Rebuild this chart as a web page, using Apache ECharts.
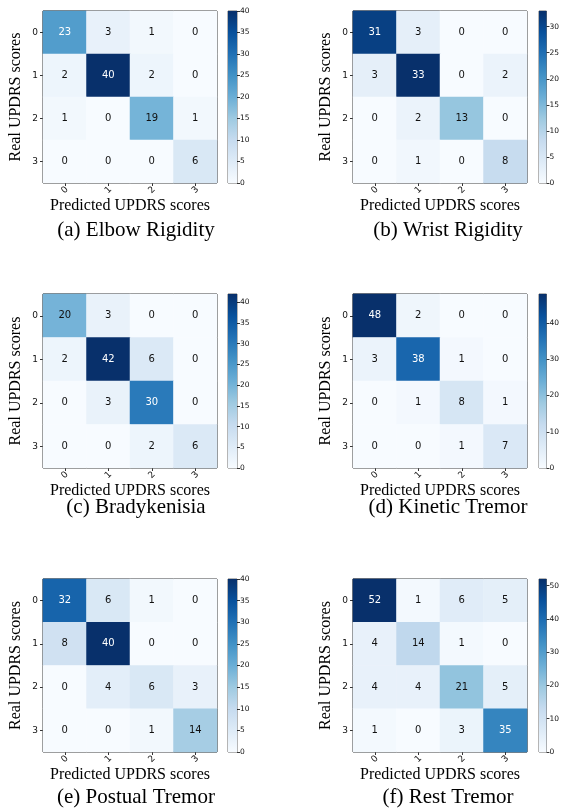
<!DOCTYPE html>
<html>
<head>
<meta charset="utf-8">
<script src="https://cdn.jsdelivr.net/npm/echarts@6/dist/echarts.min.js"></script>
<style>
  html, body { margin: 0; padding: 0; background: #ffffff; }
  #chart { width: 562px; height: 810px; }
</style>
</head>
<body>
<div id="chart"></div>
<script>
// UPDRS score classes (rows = real, columns = predicted)
const scoreLabels = ['0', '1', '2', '3'];

const elbowRigidity  = [[23, 3, 1, 0], [2, 40, 2, 0], [1, 0, 19, 1], [0, 0, 0, 6]];
const wristRigidity  = [[31, 3, 0, 0], [3, 33, 0, 2], [0, 2, 13, 0], [0, 1, 0, 8]];
const bradykinesia   = [[20, 3, 0, 0], [2, 42, 6, 0], [0, 3, 30, 0], [0, 0, 2, 6]];
const kineticTremor  = [[48, 2, 0, 0], [3, 38, 1, 0], [0, 1, 8, 1], [0, 0, 1, 7]];
const posturalTremor = [[32, 6, 1, 0], [8, 40, 0, 0], [0, 4, 6, 3], [0, 0, 1, 14]];
const restTremor     = [[52, 1, 6, 5], [4, 14, 1, 0], [4, 4, 21, 5], [1, 0, 3, 35]];

const captions = [
  '(a) Elbow Rigidity', '(b) Wrist Rigidity', '(c) Bradykenisia',
  '(d) Kinetic Tremor', '(e) Postual Tremor', '(f) Rest Tremor'
];

// colorbar tick labels for each panel
const ticksElbow    = [0, 5, 10, 15, 20, 25, 30, 35, 40];
const ticksWrist    = [0, 5, 10, 15, 20, 25, 30];
const ticksBrady    = [0, 5, 10, 15, 20, 25, 30, 35, 40];
const ticksKinetic  = [0, 10, 20, 30, 40];
const ticksPostural = [0, 5, 10, 15, 20, 25, 30, 35, 40];
const ticksRest     = [0, 10, 20, 30, 40, 50];

const xTitle = 'Predicted UPDRS scores';
const yTitle = 'Real UPDRS scores';

// matplotlib "Blues" colormap
const blues = ['#f7fbff', '#deebf7', '#c6dbef', '#9ecae1', '#6baed6',
               '#4292c6', '#2171b5', '#08519c', '#08306b'];

const panels = [
  { matrix: elbowRigidity,  ticks: ticksElbow },
  { matrix: wristRigidity,  ticks: ticksWrist },
  { matrix: bradykinesia,   ticks: ticksBrady },
  { matrix: kineticTremor,  ticks: ticksKinetic },
  { matrix: posturalTremor, ticks: ticksPostural },
  { matrix: restTremor,     ticks: ticksRest }
];

// page layout
const colLeft = [43, 353];
const colCbLeft = [228, 539];
const rowTop = [11, 294, 579];
const rowH = [172, 174, 173];
const plotW = 174;
const cbW = 9;
const captionY = [230, 507, 797];
const captionX = [136, 448];

const serif = 'Liberation Serif';
const sans = 'DejaVu Sans';

const grid = [], xAxis = [], yAxis = [], series = [], visualMap = [], graphic = [];
const n = panels.length;

panels.forEach((p, i) => {
  const col = i % 2, row = Math.floor(i / 2);
  const maxVal = Math.max(...p.matrix.flat());
  const thresh = maxVal / 2;

  grid.push({
    left: colLeft[col], top: rowTop[row], width: plotW, height: rowH[row],
    show: true, borderColor: '#000', borderWidth: 1, backgroundColor: 'transparent'
  });
  xAxis.push({
    type: 'category', gridIndex: i, data: scoreLabels, position: 'bottom',
    axisLine: { show: false },
    axisTick: { show: true, alignWithLabel: true, length: 3, lineStyle: { color: '#000', width: 0.8 } },
    axisLabel: {
      rotate: 45, align: 'center', verticalAlign: 'middle',
      fontSize: 9, fontFamily: sans, color: '#111', margin: 7
    },
    splitLine: { show: false },
    name: xTitle, nameLocation: 'middle', nameGap: 13,
    nameTextStyle: { fontFamily: serif, fontSize: 16, color: '#000' }
  });
  yAxis.push({
    type: 'category', gridIndex: i, data: scoreLabels, inverse: true,
    axisLine: { show: false },
    axisTick: { show: true, alignWithLabel: true, length: 3, lineStyle: { color: '#000', width: 0.8 } },
    axisLabel: { fontSize: 9, fontFamily: sans, color: '#111', margin: 5 },
    splitLine: { show: false },
    name: yTitle, nameLocation: 'middle', nameGap: 19,
    nameTextStyle: { fontFamily: serif, fontSize: 16, color: '#000' }
  });

  const data = [];
  p.matrix.forEach((r, ri) => r.forEach((v, ci) => {
    data.push({ value: [ci, ri, v], label: { color: v > thresh ? '#ffffff' : '#111111' } });
  }));
  series.push({
    type: 'heatmap', xAxisIndex: i, yAxisIndex: i, data: data,
    label: { show: true, fontSize: 10, fontFamily: sans, formatter: (d) => String(d.value[2]) },
    emphasis: { disabled: true }, silent: true, progressive: 0
  });
  visualMap.push({
    type: 'continuous', show: false, min: 0, max: maxVal, seriesIndex: i, dimension: 2,
    inRange: { color: blues }
  });
});

// colorbars
panels.forEach((p, i) => {
  const col = i % 2, row = Math.floor(i / 2);
  const maxVal = Math.max(...p.matrix.flat());
  const gi = n + i;
  grid.push({
    left: colCbLeft[col], top: rowTop[row], width: cbW, height: rowH[row],
    show: true, borderColor: '#444', borderWidth: 0.8, backgroundColor: 'transparent'
  });
  xAxis.push({ type: 'category', gridIndex: gi, data: ['scale'], show: false });
  yAxis.push({
    type: 'value', gridIndex: gi, min: 0, max: maxVal, position: 'right',
    axisLine: { show: false },
    axisTick: { show: true, length: 3, customValues: p.ticks, lineStyle: { color: '#000', width: 0.8 } },
    axisLabel: { fontSize: 7.5, fontFamily: sans, color: '#111', margin: 3, customValues: p.ticks },
    splitLine: { show: false }
  });
  series.push({
    type: 'bar', xAxisIndex: gi, yAxisIndex: gi, data: [maxVal],
    barWidth: '100%', silent: true,
    itemStyle: {
      color: {
        type: 'linear', x: 0, y: 0, x2: 0, y2: 1,
        colorStops: blues.slice().reverse().map((c, k) => ({ offset: k / (blues.length - 1), color: c }))
      }
    }
  });

  graphic.push({
    type: 'text', x: captionX[col], y: captionY[row],
    style: {
      text: captions[i], fontFamily: serif, fontSize: 21, fill: '#000',
      textAlign: 'center', textVerticalAlign: 'middle'
    }
  });
});

const chart = echarts.init(document.getElementById('chart'), null, { renderer: 'canvas' });
chart.setOption({
  backgroundColor: '#ffffff',
  animation: false,
  grid, xAxis, yAxis, series, visualMap, graphic
});
</script>
</body>
</html>
